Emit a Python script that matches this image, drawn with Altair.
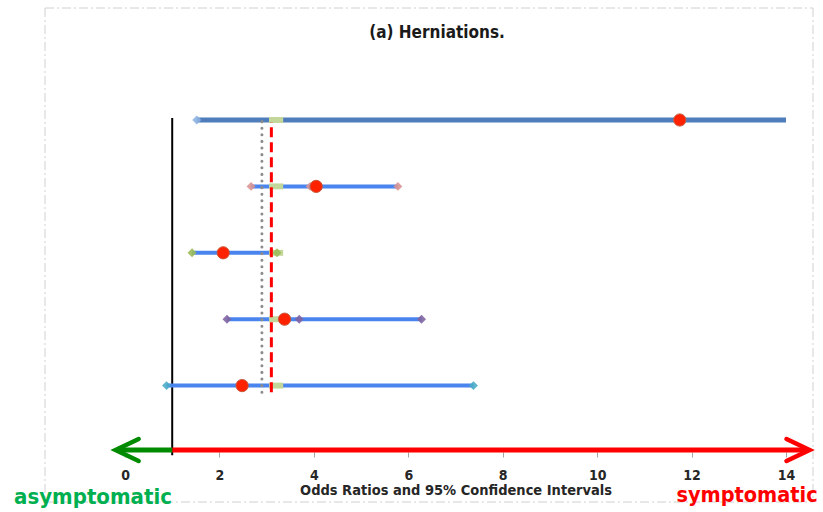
import altair as alt
import pandas as pd

# Odds ratios with 95% confidence intervals, one row per study (top to bottom)
row_pos = [5, 4, 3, 2, 1]
odds_ratio = [11.75, 4.05, 2.08, 3.38, 2.48]
ci_lower = [1.52, 2.67, 1.42, 2.16, 0.88]
ci_upper = [14.0, 5.78, 3.22, 6.28, 7.38]
inner_marker = [None, 3.92, None, 3.69, None]
line_colors = ["#4F7DBB", "#4A84EE", "#4A84EE", "#4A84EE", "#4A84EE"]
line_widths = [5, 4, 4, 4, 4]
end_colors = ["#8DB3E2", "#D99594", "#9BBB59", "#8064A2", "#4BACC6"]

# Pooled reference values
pooled_dotted = 2.9
pooled_dashed = 3.1
pooled_box = 3.2
no_effect = 1

x_ticks = [0, 2, 4, 6, 8, 10, 12, 14]

FONT = "DejaVu Sans Condensed, DejaVu Sans, sans-serif"

df = pd.DataFrame({
    "row": row_pos, "or": odds_ratio, "lo": ci_lower, "hi": ci_upper,
    "mid": inner_marker, "lc": line_colors, "lw": line_widths, "ec": end_colors,
})
ends = pd.concat([
    pd.DataFrame({"row": row_pos, "v": ci_lower, "ec": end_colors}),
    pd.DataFrame({"row": row_pos, "v": ci_upper, "ec": end_colors}),
    pd.DataFrame({"row": row_pos, "v": inner_marker, "ec": end_colors}).dropna(),
])
ends = ends[ends["v"] < 13.9]

X = alt.Scale(domain=[0, 14], nice=False, zero=False)
Y = alt.Scale(domain=[0, 452 / 66.4], nice=False, zero=False)

xaxis = alt.Axis(
    values=x_ticks, domain=False, grid=False, tickColor="#A6A6A6", tickSize=5,
    labelFont=FONT, labelFontSize=14, labelFontWeight="bold",
    labelColor="#262626", labelPadding=11, title="Odds Ratios and 95% Confidence Intervals",
    titleFont=FONT, titleFontSize=14.5, titleFontWeight="bold", titleColor="#262626",
    titlePadding=1, labelFlush=False,
)


def xq(field):
    return alt.X(field, scale=X, axis=xaxis)


def yq(field):
    return alt.Y(field, scale=Y, axis=None)


base = alt.Chart(df)

# Dashed frame around the figure, drawn as four pixel-positioned rules
frame = alt.Chart(pd.DataFrame({
    "x1": [-80, 688, -80, -80], "x2": [-80, 688, 688, 688],
    "y1": [8, 8, 8, 502], "y2": [502, 502, 8, 502],
})).mark_rule(color="#D0D0D0", strokeWidth=1, strokeDash=[9, 3, 2, 3]).encode(
    x=alt.X("x1:Q", scale=None, axis=None), x2="x2:Q",
    y=alt.Y("y1:Q", scale=None, axis=None), y2="y2:Q",
)

null_line = alt.Chart(pd.DataFrame({"x": [no_effect], "y1": [-0.05], "y2": [5.03]})).mark_rule(
    color="black", strokeWidth=2
).encode(x=xq("x:Q"), y=yq("y1:Q"), y2="y2:Q")

ci = base.mark_rule().encode(
    x=xq("lo:Q"), x2="hi:Q", y=yq("row:Q"),
    color=alt.Color("lc:N", scale=None), size=alt.Size("lw:Q", scale=None),
)

box = base.mark_rect(color="#C4D79B").encode(
    x=xq("b1:Q"), x2="b2:Q", y=yq("y1:Q"), y2="y2:Q",
).transform_calculate(
    y1="datum.row - 0.045", y2="datum.row + 0.045",
    b1=f"{pooled_box} - 0.15", b2=f"{pooled_box} + 0.15",
)

dotted = alt.Chart(pd.DataFrame({"x": [pooled_dotted], "y1": [0.9], "y2": [5.0]})).mark_rule(
    color="#8C8C8C", strokeWidth=3, strokeDash=[0.1, 6.5], strokeCap="round"
).encode(x=xq("x:Q"), y=yq("y1:Q"), y2="y2:Q")

dashed = alt.Chart(pd.DataFrame({"x": [pooled_dashed], "y1": [0.9], "y2": [4.97]})).mark_rule(
    color="#FF0000", strokeWidth=3, strokeDash=[10, 5]
).encode(x=xq("x:Q"), y=yq("y1:Q"), y2="y2:Q")

end_marks = alt.Chart(ends).mark_point(shape="diamond", filled=True, size=80, opacity=0.9).encode(
    x=xq("v:Q"), y=yq("row:Q"), color=alt.Color("ec:N", scale=None),
)

dots = base.mark_circle(size=150, color="#FF2200", opacity=1, stroke="#C8583F", strokeWidth=1).encode(
    x=xq("or:Q"), y=yq("row:Q")
)

# Direction arrows along the axis
arrows = pd.DataFrame({
    "x1": [no_effect, no_effect], "x2": [14.42, -0.17], "tip": [14.5, -0.2],
    "y": [0.03, 0.03], "c": ["#FF0000", "#008A00"],
})
shafts = alt.Chart(arrows).mark_rule(strokeWidth=5).encode(
    x=xq("x1:Q"), x2="x2:Q", y=yq("y:Q"), color=alt.Color("c:N", scale=None),
)
head_r = alt.Chart(arrows.iloc[[0]]).mark_point(
    shape="M-2.1,-1L0,0L-2.1,1", filled=False, size=484, strokeWidth=4.5,
    strokeCap="round", strokeJoin="miter", opacity=1,
).encode(x=xq("tip:Q"), y=yq("y:Q"), color=alt.Color("c:N", scale=None))
head_l = alt.Chart(arrows.iloc[[1]]).mark_point(
    shape="M2.1,-1L0,0L2.1,1", filled=False, size=484, strokeWidth=4.5,
    strokeCap="round", strokeJoin="miter", opacity=1,
).encode(x=xq("tip:Q"), y=yq("y:Q"), color=alt.Color("c:N", scale=None))


def label(text, x, y, size, color):
    return alt.Chart(pd.DataFrame({"t": [text]})).mark_text(
        font=FONT, fontSize=size, fontWeight="bold", color=color, align="center", baseline="middle"
    ).encode(text="t:N", x=alt.value(x - 125), y=alt.value(y))


title = label("(a)  Herniations.", 437, 33, 17, "#1A1A1A")
asym = label("asymptomatic", 93, 497, 22, "#00B050")
sym = label("symptomatic", 747, 496, 21.5, "#FF0000")

chart = alt.layer(
    frame, null_line, ci, box, dotted, dashed, end_marks, dots, shafts, head_r, head_l,
    title, asym, sym,
).properties(
    width=661, height=452,
    background="white",
    autosize=alt.AutoSizeParams(type="none"),
    padding={"left": 125, "top": 0, "right": 37, "bottom": 60},
).configure_view(stroke=None).configure_axis(grid=False)

chart.save("out.html", embed_options={"renderer": "svg", "actions": False})
